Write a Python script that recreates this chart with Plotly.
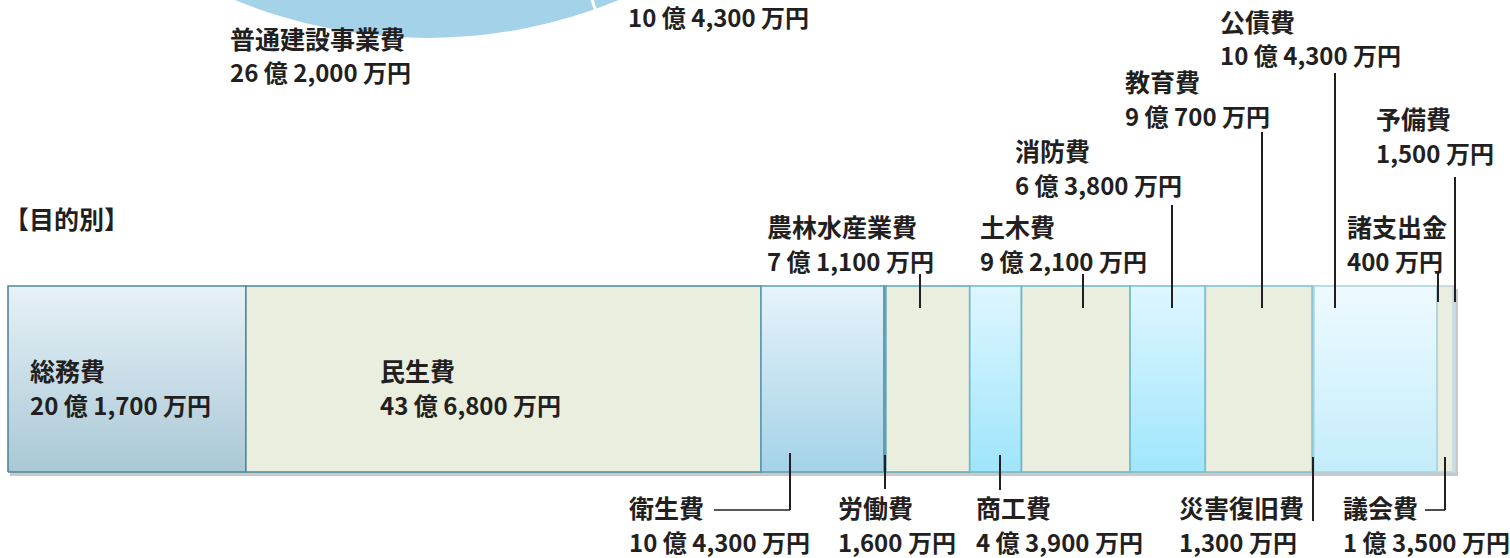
import math
import plotly.graph_objects as go

# ---------------- data (万円) ----------------
categories = ["総務費", "民生費", "衛生費", "労働費", "農林水産業費", "商工費", "土木費",
              "消防費", "教育費", "災害復旧費", "公債費", "諸支出金", "議会費", "予備費"]
values_man = [201700, 436800, 104300, 1600, 71100, 43900, 92100,
              63800, 90700, 1300, 104300, 400, 13500, 1500]

# other chart fragment (性質別), partly visible at top
upper_labels = ["普通建設事業費", ""]
upper_values = [262000, 104300]

# ---------------- styling ----------------
W, H = 1510, 558
BAR_LEFT, BAR_RIGHT = 8, 1455          # px
BAR_TOP, BAR_BOTTOM = 286, 472         # px

seg_top = ["#e7f1f7", "#eaeedf", "#e6f3fb", "#6aaabb", "#eaeedf", "#def6ff", "#eaeedf",
           "#def6ff", "#eaeedf", "#8cc6d8", "#eefaff", "#a9d3e2", "#eaeedf", "#d5e2e8"]
seg_bot = ["#a9c8d6", "#eaeedf", "#a4d2e7", "#6aaabb", "#eaeedf", "#9fe5fb", "#eaeedf",
           "#a0e6fc", "#eaeedf", "#8cc6d8", "#c3edfb", "#a9d3e2", "#eaeedf", "#d5e2e8"]
seg_line = ["#4d889a", "#4d889a", "#5a9db2", "#5a9db2", "#5fa6ba", "#6cb7cd", "#6cb7cd",
            "#74bcd1", "#7cbfd2", "#8cc6d8", "#a6d3e1", "#a9d3e2", "#b9d5df", "#c9dbe3"]

TEXT = "#231f1f"
FONT = "Noto Sans CJK JP"
FS_NAME = 25
FS_VAL = 24

def fmt(v):
    oku, man = divmod(v, 10000)
    if oku:
        return f"{oku} 億 {man:,} 万円" if man else f"{oku} 億円"
    return f"{man:,} 万円"

total = sum(values_man) / 10000.0    # 億
k = (BAR_RIGHT - BAR_LEFT) / total    # px per 億
x_range = [-BAR_LEFT / k, (W - BAR_LEFT) / k]

y_bot = H - BAR_BOTTOM
y_top = H - BAR_TOP

fig = go.Figure()

# drop shadow
fig.add_trace(go.Scatter(
    x=[2 / k, total + 3 / k, total + 3 / k, 2 / k, 2 / k],
    y=[y_bot - 4, y_bot - 4, y_top - 3, y_top - 3, y_bot - 4],
    fill="toself", fillcolor="rgba(60,60,60,0.28)", line=dict(width=0),
    mode="lines", hoverinfo="skip", showlegend=False))

# segments
cum = 0.0
for i, (c, v) in enumerate(zip(categories, values_man)):
    val = v / 10000.0
    x0, x1 = cum, cum + val
    fig.add_trace(go.Scatter(
        x=[x0, x1, x1, x0, x0], y=[y_bot, y_bot, y_top, y_top, y_bot],
        fill="toself",
        fillgradient=dict(type="vertical", colorscale=[[0, seg_bot[i]], [1, seg_top[i]]]),
        line=dict(color=seg_line[i], width=1.6),
        mode="lines", name=c, hovertemplate=f"{c}<br>{fmt(v)}<extra></extra>",
        showlegend=False))
    cum = x1

annotations = []
shapes = []

def label(text, px, py, size=FS_NAME):
    annotations.append(dict(text=text, x=px / W, y=1 - py / H, xref="paper", yref="paper",
                            xanchor="left", yanchor="middle", showarrow=False,
                            font=dict(family=FONT, size=size, color=TEXT, weight="bold")))

def vline(px, py0, py1, w=2):
    shapes.append(dict(type="line", xref="paper", yref="paper",
                       x0=px / W, x1=px / W, y0=1 - py0 / H, y1=1 - py1 / H,
                       line=dict(color=TEXT, width=w)))

def hline(px0, px1, py, w=1.6):
    shapes.append(dict(type="line", xref="paper", yref="paper",
                       x0=px0 / W, x1=px1 / W, y0=1 - py / H, y1=1 - py / H,
                       line=dict(color=TEXT, width=w)))

# label placements: name -> (left px, first line center py)
pos = {
    "総務費": (28, 370), "民生費": (378, 370),
    "衛生費": (627, 507), "労働費": (836, 507), "商工費": (974, 507),
    "災害復旧費": (1177, 507), "議会費": (1341, 507),
    "農林水産業費": (765, 226), "土木費": (978, 226), "消防費": (1013, 150),
    "教育費": (1123, 81), "公債費": (1218, 21), "諸支出金": (1345, 226), "予備費": (1374, 118),
}
for c, v in zip(categories, values_man):
    lx, ly = pos[c]
    label(c, lx, ly)
    label(fmt(v), lx, ly + 34, size=FS_VAL)

# leaders (px)
vline(790, 453, 510); hline(714, 790, 510)         # 衛生費
vline(885, 455, 489)                                # 労働費
vline(1000, 455, 490)                               # 商工費
vline(1313, 457, 521)                               # 災害復旧費
vline(1445, 457, 510); hline(1425, 1445, 510)       # 議会費
vline(920, 274, 308)                                # 農林水産業費
vline(1083, 274, 308)                               # 土木費
vline(1172, 205, 308)                               # 消防費
vline(1262, 132, 308)                               # 教育費
vline(1335, 73, 308)                                # 公債費
vline(1438, 272, 302)                               # 諸支出金
vline(1455, 177, 302)                               # 予備費

# section heading
label("【目的別】", 2, 218)

# partial pie (性質別) at top
cx, cy, R = 427, -466, 504
shapes.insert(0, dict(type="circle", xref="paper", yref="paper", layer="below",
                      x0=(cx - R) / W, x1=(cx + R) / W,
                      y0=1 - (cy + R) / H, y1=1 - (cy - R) / H,
                      fillcolor="#a4d2e8", line=dict(width=0)))
ang = math.atan2(0 - cy, 592 - cx)
shapes.insert(1, dict(type="line", xref="paper", yref="paper", layer="below",
                      x0=cx / W, y0=1 - cy / H,
                      x1=(cx + (R + 5) * math.cos(ang)) / W, y1=1 - (cy + (R + 5) * math.sin(ang)) / H,
                      line=dict(color="white", width=3)))
label(upper_labels[0], 228, 38)
label(fmt(upper_values[0]), 228, 71, size=FS_VAL)
label(fmt(upper_values[1]), 626, 16, size=FS_VAL)

fig.update_layout(
    width=W, height=H, autosize=False,
    margin=dict(l=0, r=0, t=0, b=0),
    paper_bgcolor="white", plot_bgcolor="rgba(0,0,0,0)",
    xaxis=dict(range=x_range, visible=False, fixedrange=True),
    yaxis=dict(range=[0, H], visible=False, fixedrange=True),
    annotations=annotations, shapes=shapes,
    showlegend=False,
)

fig.write_html("out.html", config={"displayModeBar": False},
               post_script="document.body.style.margin='0';document.body.style.overflow='hidden';")
